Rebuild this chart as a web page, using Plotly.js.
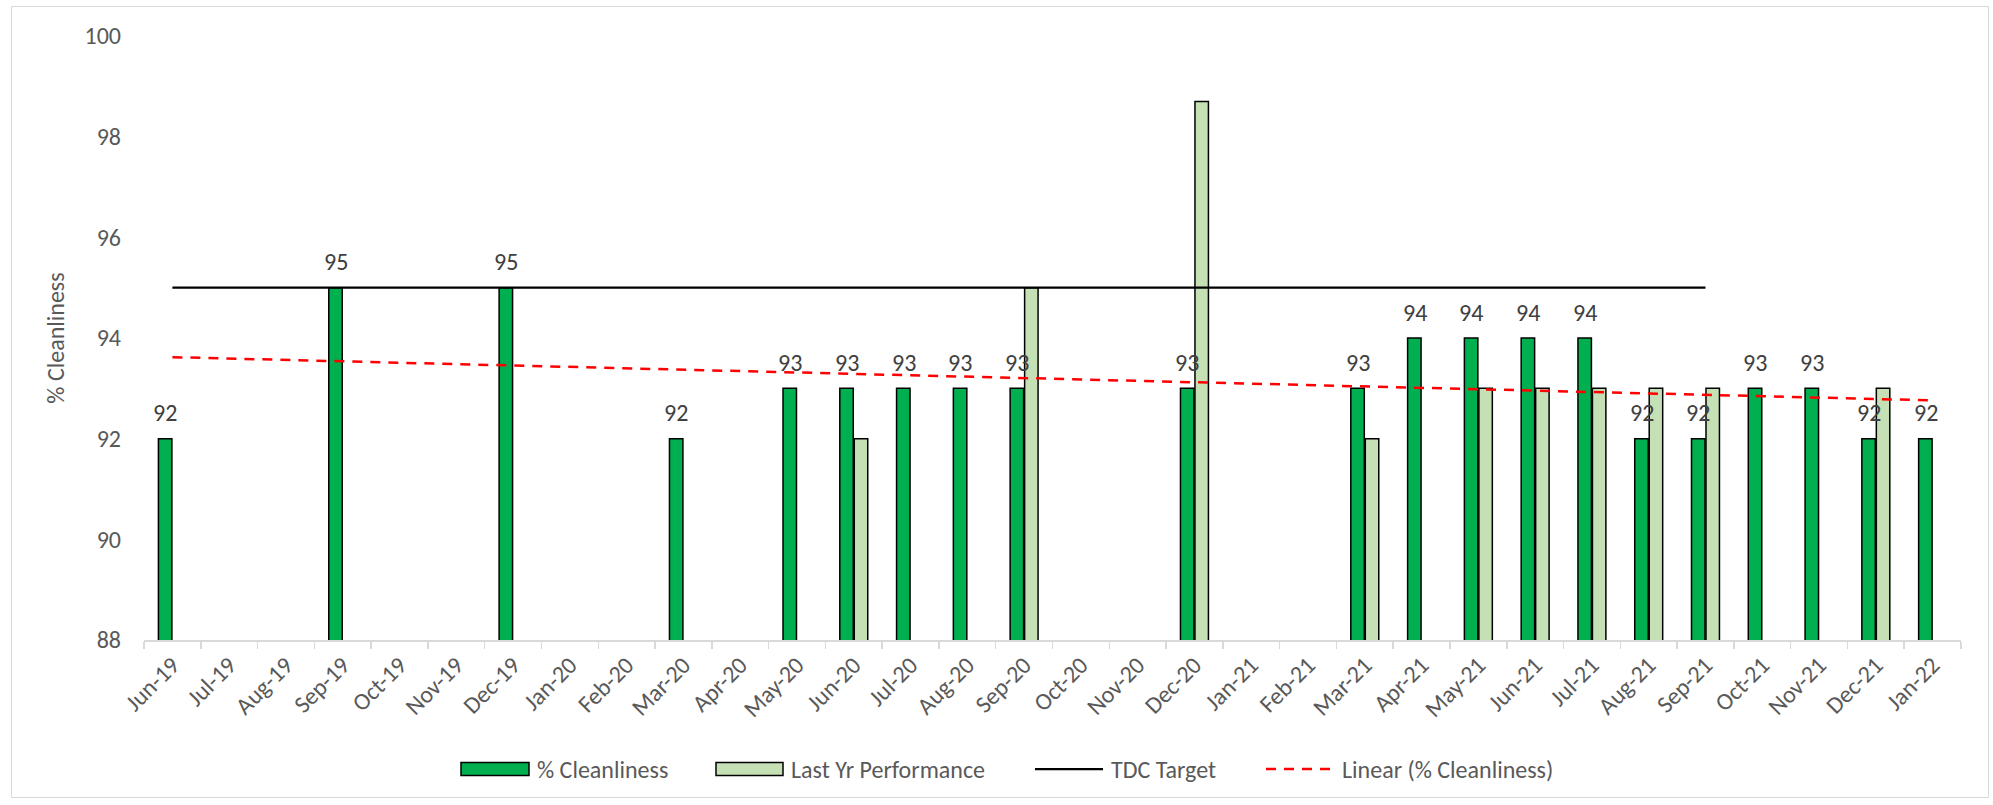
<!DOCTYPE html>
<html>
<head>
<meta charset="utf-8">
<script src="https://cdn.plot.ly/plotly-3.0.1.min.js"></script>
<style>
  html, body { margin: 0; padding: 0; background: #fff; }
  #wrap { position: relative; width: 1993px; height: 805px; }
  #chart { position: absolute; left: 0; top: 0; width: 1993px; height: 805px; }
  #frame { position: absolute; left: 11px; top: 6px; width: 1978px; height: 792px;
           border: 1.5px solid #d9d9d9; pointer-events: none; box-sizing: border-box; }
</style>
</head>
<body>
<div id="wrap"><div id="chart"></div><div id="frame"></div></div>
<script>
const months = ["Jun-19","Jul-19","Aug-19","Sep-19","Oct-19","Nov-19","Dec-19","Jan-20","Feb-20","Mar-20",
  "Apr-20","May-20","Jun-20","Jul-20","Aug-20","Sep-20","Oct-20","Nov-20","Dec-20","Jan-21","Feb-21",
  "Mar-21","Apr-21","May-21","Jun-21","Jul-21","Aug-21","Sep-21","Oct-21","Nov-21","Dec-21","Jan-22"];

const cleanliness = [92,null,null,95,null,null,95,null,null,92,
  null,93,93,93,93,93,null,null,93,null,null,
  93,94,94,94,94,92,92,93,93,92,92];

const lastYear = [null,null,null,null,null,null,null,null,null,null,
  null,null,92,null,null,95,null,null,98.7,null,null,
  92,null,93,93,93,93,93,null,null,93,null];

const targetX = ["Jun-19","Sep-21"];
const targetY = [95,95];

const trendX = ["Jun-19","Jan-22"];
const trendY = [93.62,92.76];

const yTicks = [88,90,92,94,96,98,100];

const legendNames = ["% Cleanliness","Last Yr Performance","TDC Target","Linear (% Cleanliness)"];

const FONT = "Calibri, Carlito, 'Open Sans', sans-serif";
const TXT = "#595959";
const FS = 24;

const M = {l:144, r:32, t:36, b:165};
const W = 1993, H = 805;
const PW = W - M.l - M.r, PH = H - M.t - M.b;
const px = x => (x - M.l) / PW;
const py = y => (H - M.b - y) / PH;

const traces = [
  {type:"bar", name:legendNames[0], x:months, y:cleanliness,
   marker:{color:"#00B050", line:{color:"#000", width:1.5}}, showlegend:false, hoverinfo:"x+y"},
  {type:"bar", name:legendNames[1], x:months, y:lastYear,
   marker:{color:"#C5E0B4", line:{color:"#000", width:1.5}}, showlegend:false, hoverinfo:"x+y"},
  {type:"scatter", mode:"lines", name:legendNames[2], x:targetX, y:targetY,
   line:{color:"#000", width:2.25}, showlegend:false},
  {type:"scatter", mode:"lines", name:legendNames[3], x:trendX, y:trendY,
   line:{color:"#FF0000", width:2.5, dash:"10px,8px"}, showlegend:false}
];

const annotations = [];
months.forEach((m, i) => {
  if (cleanliness[i] !== null) {
    annotations.push({x:m, y:cleanliness[i], xref:"x", yref:"y", text:String(cleanliness[i]),
      showarrow:false, xshift:-7, yshift:26, yanchor:"middle",
      font:{family:FONT, size:FS, color:"#404040"}});
  }
});

// manual legend (wide symbols like the original)
const legY = 769;
const shapes = [
  {type:"rect", xref:"paper", yref:"paper", x0:px(461), x1:px(529), y0:py(legY+6.5), y1:py(legY-6.5),
   fillcolor:"#00B050", line:{color:"#000", width:1.5}},
  {type:"rect", xref:"paper", yref:"paper", x0:px(716), x1:px(783), y0:py(legY+6.5), y1:py(legY-6.5),
   fillcolor:"#C5E0B4", line:{color:"#000", width:1.5}},
  {type:"line", xref:"paper", yref:"paper", x0:px(1035), x1:px(1103), y0:py(legY), y1:py(legY),
   line:{color:"#000", width:2.25}},
  {type:"line", xref:"paper", yref:"paper", x0:px(1266), x1:px(1334), y0:py(legY), y1:py(legY),
   line:{color:"#FF0000", width:2.5, dash:"10px,8px"}}
];
const legTextX = [535, 789, 1109, 1340];
legendNames.forEach((n, i) => {
  annotations.push({xref:"paper", yref:"paper", x:px(legTextX[i]), y:py(legY), text:n,
    xanchor:"left", yanchor:"middle", showarrow:false,
    font:{family:FONT, size:FS, color:TXT}});
});

const layout = {
  width:W, height:H,
  margin:M,
  paper_bgcolor:"#fff", plot_bgcolor:"#fff",
  barmode:"group", bargap:0.49, bargroupgap:0.07,
  showlegend:false,
  font:{family:FONT, size:FS, color:TXT},
  xaxis:{type:"category", categoryorder:"array", categoryarray:months,
    range:[-0.5, months.length-0.5],
    showline:true, linecolor:"#d9d9d9", linewidth:1.5,
    ticks:"outside", tickson:"boundaries", ticklen:7, tickcolor:"#d9d9d9", tickwidth:1.5,
    tickangle:-45, tickfont:{family:FONT, size:FS, color:TXT},
    showgrid:false, zeroline:false, fixedrange:true},
  yaxis:{range:[88,100], tickvals:yTicks, ticktext:yTicks.map(String),
    showline:false, showgrid:false, zeroline:false, ticks:"",
    ticklabelstandoff:22,
    tickfont:{family:FONT, size:FS, color:TXT},
    title:{text:"% Cleanliness", font:{family:FONT, size:FS, color:TXT}, standoff:13},
    fixedrange:true},
  shapes:shapes,
  annotations:annotations
};

Plotly.newPlot("chart", traces, layout, {displayModeBar:false, staticPlot:true});
</script>
</body>
</html>
